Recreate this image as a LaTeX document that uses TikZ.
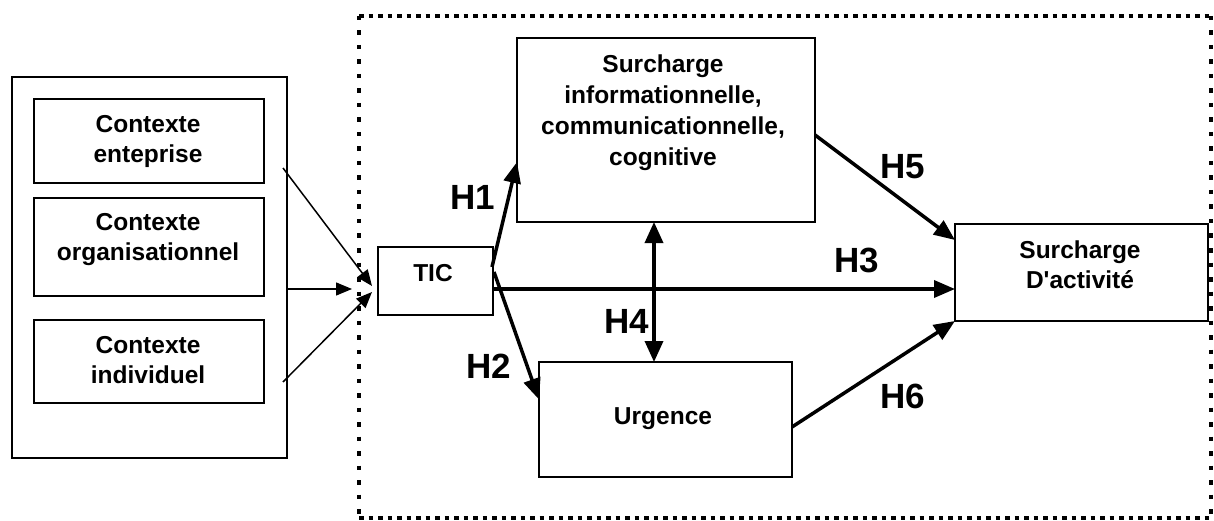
\documentclass[tikz,border=0pt]{standalone}
\usepackage{fontspec}
\setmainfont{Liberation Sans}[Ligatures=TeXOff]
\usetikzlibrary{arrows.meta,calc}
\tikzset{
  box/.style={draw=black, line width=2pt, inner sep=0pt, outer sep=0pt},
  txt/.style={inner sep=0pt, align=center, font=\fontsize{24.5}{30}\selectfont\bfseries},
  hlab/.style={inner sep=0pt, font=\fontsize{35}{40}\selectfont\bfseries},
  bigarrow/.style={line width=3.5pt, -{Triangle[length=21pt,width=17pt]}},
  dblarrow/.style={line width=3.5pt, {Triangle[length=21pt,width=18pt]}-{Triangle[length=21pt,width=18pt]}},
  thinarrow/.style={line width=1.5pt, -{Triangle[length=16pt,width=13pt]}},
  hdots/.style={line width=4.5pt, dash pattern=on 4.5pt off 5pt},
  vdots/.style={line width=4.5pt, dash pattern=on 4.5pt off 10pt},
}
\begin{document}
\begin{tikzpicture}[x=1pt,y=-1pt]
\useasboundingbox[fill=white] (0,0) rectangle (1214,521);
% dotted frame
\node[inner sep=0pt, outer sep=0pt, minimum width=852pt, minimum height=502pt] (frame) at (785,267) {};
\draw[hdots] (frame.north west) -- (frame.north east);
\draw[hdots] (frame.south west) -- (frame.south east);
\draw[vdots] (frame.north west) -- (frame.south west);
\draw[vdots] (frame.north east) -- (frame.south east);
% left context boxes
\node[box, minimum width=275pt, minimum height=381pt] (ctx) at (149.5,267.5) {};
\node[box, minimum width=230pt, minimum height=84pt] (ent) at (149,141) {};
\node[box, minimum width=230pt, minimum height=98pt] (org) at (149,247) {};
\node[box, minimum width=230pt, minimum height=83pt] (ind) at (149,361.5) {};
\node[txt] (entT) at (148,141.5) {Contexte\\enteprise};
\node[txt] (orgT) at (148,240) {Contexte\\organisationnel};
\node[txt] (indT) at (148,360) {Contexte\\individuel};
% main boxes
\node[box, minimum width=115pt, minimum height=68pt] (tic) at (435.5,281) {};
\node[txt] (ticT) at (433,273) {TIC};
\node[box, minimum width=298pt, minimum height=184pt] (surch) at (666,130) {};
\node[txt, font=\fontsize{24.5}{31}\selectfont\bfseries] (surchT) at (663,112.5) {Surcharge\\informationnelle,\\communicationnelle,\\cognitive};
\node[box, minimum width=253pt, minimum height=115pt] (urg) at (665.5,419.5) {};
\node[txt] (urgT) at (663,419) {Urgence};
\node[box, minimum width=253pt, minimum height=97pt] (sd) at (1081.5,272.5) {};
\node[txt] (sdT) at (1080,265) {Surcharge\\D'activité};
% left arrows
\coordinate (la) at ($(ctx.north east)+(-4,91)$);
\coordinate (lb) at ($(ctx.south east)+(-4,-76)$);
\draw[thinarrow] (la) -- ($(tic.west)+(-6,5)$);
\draw[thinarrow] ($(ctx.east)+(0,21.5)$) -- ($(tic.west)+(-26,8)$);
\draw[thinarrow] (lb) -- ($(tic.west)+(-6,11)$);
% hypotheses arrows
\draw[bigarrow] ($(tic.east)+(-1,-14)$) -- ($(surch.west)+(0,32)$);
\draw[bigarrow] ($(tic.east)+(1,-9)$) -- ($(urg.west)+(0,-20)$);
\draw[bigarrow] ($(tic.east)+(0,8)$) -- ($(sd.west)+(0,16.5)$);
\draw[dblarrow] ($(surch.south)+(-12,0)$) -- ($(urg.north)+(-11.5,0)$);
\draw[bigarrow] ($(surch.east)+(0,5)$) -- ($(sd.north west)+(0,16)$);
\draw[bigarrow] ($(urg.east)+(0,7.5)$) -- (sd.south west);
% labels
\node[hlab] (h1) at (473,197) {H1};
\node[hlab] (h2) at (489,366) {H2};
\node[hlab] (h3) at (857,260) {H3};
\node[hlab] (h4) at (627,321) {H4};
\node[hlab] (h5) at (903,167) {H5};
\node[hlab] (h6) at (903,396) {H6};
\end{tikzpicture}
\end{document}
